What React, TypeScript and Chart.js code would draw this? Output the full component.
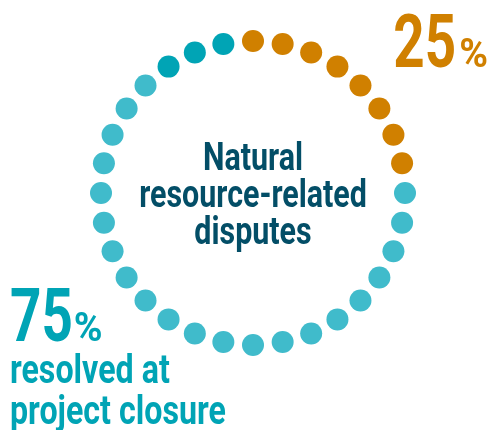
import React, { useEffect, useRef } from "react";
import { Chart, registerables } from "chart.js";

Chart.register(...registerables);

// Share of natural resource-related disputes by status at project closure
const categories = ["Unresolved", "Resolved at project closure"];
const sharePercent = [25, 75];
const totalDots = 32;
// the last few dots of the resolved arc are drawn in a deeper tint
const accentDots = 3;

const centerTitle = ["Natural", "resource-related", "disputes"];
const resolvedCaption = ["resolved at", "project closure"];

const ORANGE = "#D08000";
const TEAL_DEEP = "#00A4B5";
const TEAL_LIGHT = "#40BBCB";
const NAVY = "#034E67";

const W = 493;
const H = 430;

type Pt = { x: number; y: number };

function buildRing() {
  const step = 360 / totalDots;
  const unresolvedCount = Math.round((totalDots * sharePercent[0]) / 100);
  const groups: Pt[][] = [[], [], []];
  for (let i = 0; i < totalDots; i++) {
    const deg = 90 - i * step; // start at top, run clockwise
    const rad = (deg * Math.PI) / 180;
    const p = { x: Math.cos(rad), y: Math.sin(rad) };
    if (i < unresolvedCount) groups[0].push(p);
    else if (i >= totalDots - accentDots) groups[2].push(p);
    else groups[1].push(p);
  }
  return groups;
}

function drawText(
  ctx: CanvasRenderingContext2D,
  text: string,
  x: number,
  y: number,
  px: number,
  color: string,
  sx: number,
  align: "left" | "center" | "right"
) {
  ctx.save();
  ctx.font = `700 ${px}px Roboto`;
  ctx.fillStyle = color;
  ctx.textBaseline = "alphabetic";
  ctx.textAlign = "left";
  const w = ctx.measureText(text).width * sx;
  const left = align === "left" ? x : align === "right" ? x - w : x - w / 2;
  ctx.translate(left, y);
  ctx.scale(sx, 1);
  ctx.fillText(text, 0, 0);
  ctx.restore();
  return w;
}

function measure(ctx: CanvasRenderingContext2D, text: string, px: number, sx: number) {
  ctx.save();
  ctx.font = `700 ${px}px Roboto`;
  const w = ctx.measureText(text).width * sx;
  ctx.restore();
  return w;
}

const labelPlugin = {
  id: "ringLabels",
  afterDraw(chart: Chart) {
    const ctx = chart.ctx;
    const xs = chart.scales.x;
    const ys = chart.scales.y;
    const cx = xs.getPixelForValue(0);
    const cy = ys.getPixelForValue(0);

    // centre title
    const lineGap = 37;
    centerTitle.forEach((line, i) => {
      drawText(ctx, line, cx, cy - 23 + i * lineGap, 39, NAVY, 0.78, "center");
    });

    // unresolved share, top right
    const bigPx = 74;
    const bigSx = 0.74;
    const pctPx = 41;
    const pctSx = 0.95;
    const topNum = String(sharePercent[0]);
    const numW = measure(ctx, topNum, bigPx, bigSx);
    const pctW = measure(ctx, "%", pctPx, pctSx);
    const rightEdge = 488;
    drawText(ctx, topNum, rightEdge - pctW - 3 - numW, 67, bigPx, ORANGE, bigSx, "left");
    drawText(ctx, "%", rightEdge, 67, pctPx, ORANGE, pctSx, "right");

    // resolved share, bottom left
    const leftEdge = 10;
    const botNum = String(sharePercent[1]);
    const w75 = drawText(ctx, botNum, leftEdge, 341, bigPx, TEAL_DEEP, bigSx, "left");
    drawText(ctx, "%", leftEdge + w75 + 1, 341, pctPx, TEAL_DEEP, pctSx, "left");
    resolvedCaption.forEach((line, i) => {
      drawText(ctx, line, leftEdge, 383 + i * 41, 41, TEAL_DEEP, 0.785, "left");
    });
  },
};

export default function App() {
  const ref = useRef<HTMLCanvasElement | null>(null);

  useEffect(() => {
    document.body.style.margin = "0";
    const canvas = ref.current;
    if (!canvas) return;
    const [unresolved, resolved, resolvedAccent] = buildRing();

    // unit ring: radius 152px, centred at (253, 193)
    const r = 152;
    const cxPx = 253;
    const cyPx = 193;

    const chart = new Chart(canvas, {
      type: "scatter",
      data: {
        datasets: [
          { label: categories[0], data: unresolved, backgroundColor: ORANGE },
          { label: categories[1], data: resolved, backgroundColor: TEAL_LIGHT },
          { label: categories[1] + " (accent)", data: resolvedAccent, backgroundColor: TEAL_DEEP },
        ].map((d) => ({
          ...d,
          pointRadius: 11,
          pointHoverRadius: 11,
          borderWidth: 0,
          pointBorderWidth: 0,
        })),
      },
      options: {
        responsive: false,
        maintainAspectRatio: false,
        animation: false,
        layout: { padding: 0, autoPadding: false },
        scales: {
          x: { type: "linear", display: false, min: -cxPx / r, max: (W - cxPx) / r },
          y: { type: "linear", display: false, min: -(H - cyPx) / r, max: cyPx / r },
        },
        plugins: {
          legend: { display: false },
          tooltip: { enabled: false },
        },
        events: [],
      },
      plugins: [labelPlugin],
    });
    return () => chart.destroy();
  }, []);

  return (
    <div style={{ width: W, height: H }}>
      <canvas ref={ref} width={W} height={H} />
    </div>
  );
}
